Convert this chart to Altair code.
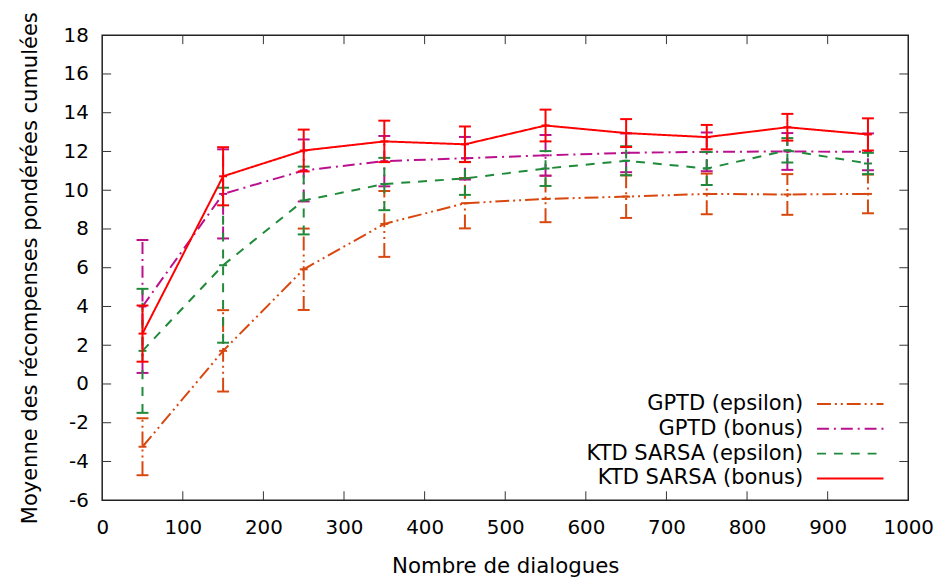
import altair as alt
import pandas as pd

# ---------------- data ----------------
x_vals = [50, 150, 250, 350, 450, 550, 650, 750, 850, 950]

series_names = ["GPTD (epsilon)", "GPTD (bonus)", "KTD SARSA (epsilon)", "KTD SARSA (bonus)"]

gptd_eps_mean = [-3.24, 1.71, 5.92, 8.26, 9.33, 9.55, 9.67, 9.81, 9.78, 9.81]
gptd_eps_err = [1.47, 2.10, 2.10, 1.70, 1.30, 1.20, 1.10, 1.05, 1.05, 1.00]

gptd_bonus_mean = [4.00, 9.81, 11.02, 11.50, 11.65, 11.80, 11.93, 11.98, 12.00, 11.98]
gptd_bonus_err = [3.43, 2.30, 1.60, 1.30, 1.10, 1.05, 1.00, 1.00, 0.95, 0.95]

ktd_eps_mean = [1.71, 6.13, 9.47, 10.32, 10.61, 11.12, 11.52, 11.12, 12.06, 11.38]
ktd_eps_err = [3.20, 4.00, 1.75, 1.35, 0.85, 0.90, 0.75, 0.85, 0.63, 0.55]

ktd_bonus_mean = [2.60, 10.72, 12.05, 12.52, 12.37, 13.34, 12.95, 12.74, 13.25, 12.88]
ktd_bonus_err = [1.45, 1.50, 1.08, 1.07, 0.92, 0.82, 0.72, 0.63, 0.69, 0.83]

x_ticks = [0, 100, 200, 300, 400, 500, 600, 700, 800, 900, 1000]
y_ticks = [-6, -4, -2, 0, 2, 4, 6, 8, 10, 12, 14, 16, 18]

means = [gptd_eps_mean, gptd_bonus_mean, ktd_eps_mean, ktd_bonus_mean]
errs = [gptd_eps_err, gptd_bonus_err, ktd_eps_err, ktd_bonus_err]

rows = []
for name, m, e in zip(series_names, means, errs):
    for xi, mi, ei in zip(x_vals, m, e):
        rows.append({"series": name, "x": xi, "y": mi, "lo": mi - ei, "hi": mi + ei})
df = pd.DataFrame(rows)

# ---------------- style ----------------
colors = ["#d8480e", "#bb108e", "#1f8a3a", "#ff0000"]
dashes = [[14, 4, 2, 4, 2, 4], [12, 5, 2, 5], [9, 8], [1, 0]]

W, H = 813, 469
FONT = "DejaVu Sans"
TICK = 9

xs = alt.Scale(domain=[0, 1000], nice=False, zero=False)
ys = alt.Scale(domain=[-6, 18], nice=False, zero=False)

x_axis = alt.Axis(values=x_ticks, title="Nombre de dialogues", ticks=False, domain=False,
                  grid=False, labelFontSize=20, titleFontSize=21.5, labelPadding=18,
                  titlePadding=18, titleFontWeight="normal", labelColor="black",
                  titleColor="black", labelFont=FONT, titleFont=FONT, labelFlush=False,
                  labelOverlap=False, labelExpr="toString(datum.value)")
y_axis = alt.Axis(values=y_ticks, title="Moyenne des récompenses pondérées cumulées",
                  ticks=False, domain=False, grid=False, labelFontSize=20, titleFontSize=21.2,
                  labelPadding=14, titlePadding=23, titleFontWeight="normal",
                  labelColor="black", titleColor="black", labelFont=FONT, titleFont=FONT,
                  labelFlush=False, labelOverlap=False,
                  labelExpr="toString(datum.value)")


def X(field):
    return alt.X(field, scale=xs, axis=x_axis)


def Y(field):
    return alt.Y(field, scale=ys, axis=y_axis)


layers = []
for name, color, dash in zip(series_names, colors, dashes):
    base = alt.Chart(df[df.series == name])
    layers.append(base.mark_line(color=color, strokeWidth=2, strokeDash=dash).encode(
        x=X("x:Q"), y=Y("y:Q")))
    layers.append(base.mark_rule(color=color, strokeWidth=2, strokeDash=dash).encode(
        x=X("x:Q"), y=Y("lo:Q"), y2="hi:Q"))
    for fld, sz in (("lo:Q", 144), ("hi:Q", 144), ("y:Q", 64)):
        layers.append(base.mark_point(shape="M-1,0L1,0", size=sz, filled=False, opacity=1,
                                      stroke=color, strokeWidth=2).encode(
            x=X("x:Q"), y=Y(fld)))

# inward ticks on all four sides
xt = pd.DataFrame({"v": x_ticks[1:-1]})
yt = pd.DataFrame({"v": y_ticks[1:-1]})
tick_col = "#333333"
layers.append(alt.Chart(xt).mark_rule(color=tick_col, strokeWidth=1).encode(
    x=X("v:Q"), y=alt.value(H), y2=alt.value(H - TICK)))
layers.append(alt.Chart(xt).mark_rule(color=tick_col, strokeWidth=1).encode(
    x=X("v:Q"), y=alt.value(0), y2=alt.value(TICK)))
layers.append(alt.Chart(yt).mark_rule(color=tick_col, strokeWidth=1).encode(
    y=Y("v:Q"), x=alt.value(0), x2=alt.value(TICK)))
layers.append(alt.Chart(yt).mark_rule(color=tick_col, strokeWidth=1).encode(
    y=Y("v:Q"), x=alt.value(W), x2=alt.value(W - TICK)))

# legend (gnuplot style: text right-aligned, sample to the right)
leg_y = [372, 397, 422, 447]
for name, color, dash, ly in zip(series_names, colors, dashes, leg_y):
    ld = pd.DataFrame({"t": [name]})
    layers.append(alt.Chart(ld).mark_text(align="right", baseline="middle", fontSize=21.2,
                                          font=FONT, color="black").encode(
        text="t:N", x=alt.value(707), y=alt.value(ly)))
    layers.append(alt.Chart(ld).mark_rule(color=color, strokeWidth=2, strokeDash=dash).encode(
        x=alt.value(721), x2=alt.value(788), y=alt.value(ly)))

chart = alt.layer(*layers).properties(
    width=W, height=H,
    autosize=alt.AutoSizeParams(type="none"),
    padding={"left": 95, "top": 25, "right": 31, "bottom": 77},
    background="white",
).configure_view(stroke="#222222", strokeWidth=1.5)

chart.save("out.html", embed_options={"renderer": "svg", "actions": False})
